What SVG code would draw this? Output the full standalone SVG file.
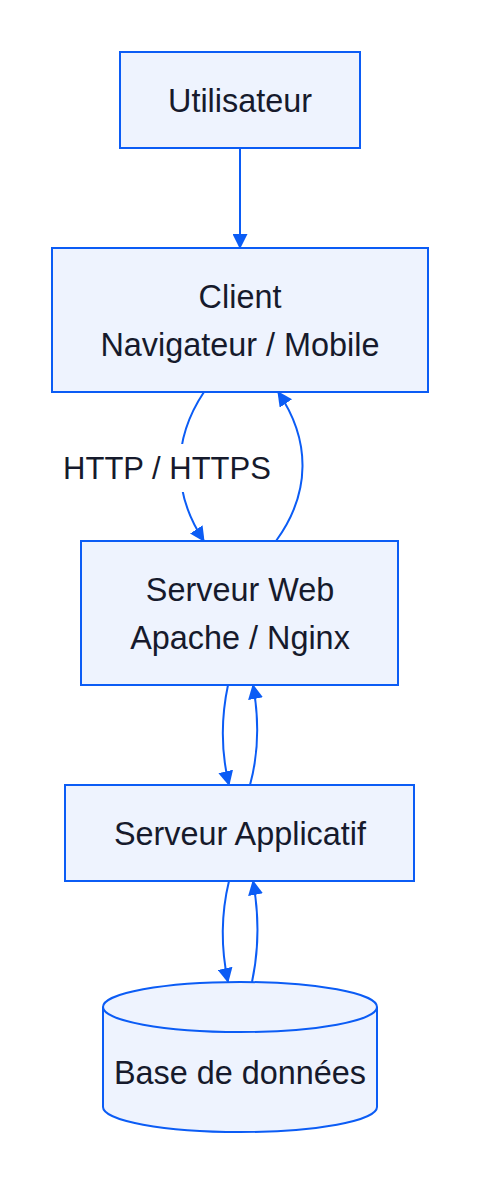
<svg xmlns="http://www.w3.org/2000/svg" width="480" height="1192" viewBox="0 0 480 1192">
<defs>
<style>
.node{fill:#eef3fe;stroke:#0b5cf5;stroke-width:2}
.lbl{font-family:"Liberation Sans",Arial,sans-serif;font-size:32.4px;fill:#161a2c;text-anchor:middle}
.elbl{font-family:"Liberation Sans",Arial,sans-serif;font-size:31px;fill:#161a2c;text-anchor:middle}
.edge{fill:none;stroke:#0b5cf5;stroke-width:2}
</style>
<marker id="arr" viewBox="0 0 14 14" refX="13" refY="7" markerWidth="15" markerHeight="15" markerUnits="userSpaceOnUse" orient="auto">
<path d="M0,0 L14,7 L0,14 Z" fill="#0b5cf5"/>
</marker>
</defs>
<rect width="480" height="1192" fill="#ffffff"/>
<g id="connectors">
<path class="edge" d="M240,148 L240,248" marker-end="url(#arr)"/>
<path class="edge" d="M204,392 C172,440 172,493 204,541" marker-end="url(#arr)"/>
<path class="edge" d="M276,541 C311,493 311,440 278,392" marker-end="url(#arr)"/>
<path class="edge" d="M228,685 C221,718 221,752 229,785" marker-end="url(#arr)"/>
<path class="edge" d="M250,785 C259,752 259,718 253,685" marker-end="url(#arr)"/>
<path class="edge" d="M229,881 C221,914 221,949 228,982" marker-end="url(#arr)"/>
<path class="edge" d="M252,982 C259,949 259,914 253,881" marker-end="url(#arr)"/>
<g id="edge-label">
<rect x="60" y="444" width="214" height="48" fill="#ffffff"/>
<text class="elbl" x="167" y="479">HTTP / HTTPS</text>
</g>
</g>
<g id="utilisateur">
<rect class="node" x="120" y="52" width="240" height="96"/>
<text class="lbl" x="240" y="112">Utilisateur</text>
</g>
<g id="client">
<rect class="node" x="52" y="248" width="376" height="144"/>
<text class="lbl" x="240" y="308">Client</text>
<text class="lbl" x="240" y="356">Navigateur / Mobile</text>
</g>
<g id="serveur-web">
<rect class="node" x="81" y="541" width="317" height="144"/>
<text class="lbl" x="240" y="601">Serveur Web</text>
<text class="lbl" x="240" y="649">Apache / Nginx</text>
</g>
<g id="serveur-applicatif">
<rect class="node" x="65" y="785" width="349" height="96"/>
<text class="lbl" x="240" y="845">Serveur Applicatif</text>
</g>
<g id="base-de-donnees">
<path class="node" d="M103,1007 A137,25 0 0 1 377,1007 L377,1107 A137,25 0 0 1 103,1107 Z"/>
<path class="node" style="fill:none" d="M103,1007 A137,25 0 0 0 377,1007"/>
<text class="lbl" x="240" y="1084">Base de données</text>
</g>
</svg>
